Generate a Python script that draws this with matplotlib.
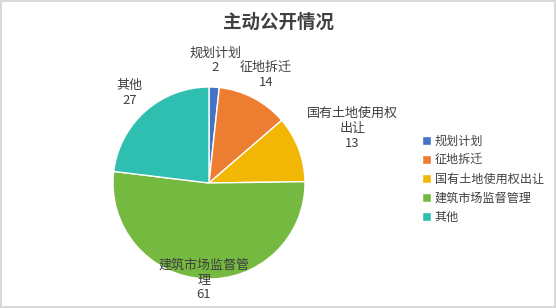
import numpy as np
import matplotlib
matplotlib.use("Agg")
from matplotlib import pyplot as plt

plt.rcParams['font.family'] = ['Noto Sans CJK SC', 'DejaVu Sans']

categories = ["规划计划", "征地拆迁", "国有土地使用权出让", "建筑市场监督管理", "其他"]
label_texts = ["规划计划", "征地拆迁", "国有土地使用权\n出让", "建筑市场监督管\n理", "其他"]
values = [2, 14, 13, 61, 27]
colors = ["#4472C4", "#ED7D31", "#F2B705", "#75B940", "#2EBFB1"]
label_dist = [1.28, 1.27, 1.6, 1.01, 1.25]

text_color = "#404040"

fig = plt.figure(figsize=(5.56, 3.08), dpi=100)
fig.patch.set_edgecolor("#D9D9D9")
fig.patch.set_linewidth(1.5)

ax = fig.add_axes([113 / 556, 29 / 308, 192 / 556, 192 / 308])
wedges, _ = ax.pie(values, colors=colors, startangle=90, counterclock=False,
                   wedgeprops=dict(edgecolor="white", linewidth=1))
ax.set_xlim(-1, 1)
ax.set_ylim(-1, 1)

for w, txt, v, d in zip(wedges, label_texts, values, label_dist):
    ang = np.deg2rad((w.theta1 + w.theta2) / 2)
    ax.text(d * np.cos(ang), d * np.sin(ang), f"{txt}\n{v}", ha="center", va="center",
            fontsize=9.4, color=text_color, linespacing=1.2, clip_on=False)

fig.text(278 / 556, 1 - 22 / 308, "主动公开情况", ha="center", va="center",
         fontsize=13.3, fontweight="bold", color=text_color)

leg = fig.legend(wedges, categories, loc="center left", bbox_to_anchor=(422 / 556, 1 - 179 / 308),
                 frameon=False, fontsize=8.7, handlelength=0.75, handleheight=0.75,
                 handletextpad=0.3, labelspacing=0.5, labelcolor=text_color,
                 borderpad=0, borderaxespad=0)

fig.savefig("out.png", dpi=100)
